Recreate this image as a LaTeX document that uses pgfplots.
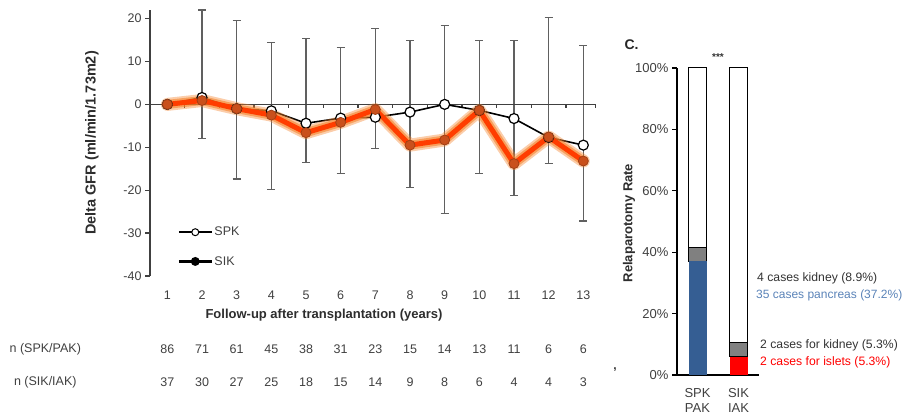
\documentclass[border=0pt]{standalone}
\usepackage{pgfplots}
\pgfplotsset{compat=1.18}
\usepackage{pgfplotstable}
\usepackage{fontspec}
\setmainfont{Liberation Sans}
\definecolor{txt}{HTML}{404040}
\definecolor{errc}{HTML}{606060}
\definecolor{orcore}{HTML}{FF3D00}
\definecolor{orglow}{HTML}{F5822A}
\definecolor{ormark}{HTML}{C9501C}
\definecolor{barblue}{HTML}{355E93}
\definecolor{txtblue}{HTML}{5A83B8}
\definecolor{barred}{HTML}{FF0000}
\definecolor{bargray}{HTML}{808080}

\pgfplotstableread{
x spk sik
1 0 0
2 1.6 0.9
3 -1.0 -1.0
4 -1.5 -2.5
5 -4.4 -6.6
6 -3.2 -4.2
7 -3.0 -1.2
8 -1.8 -9.5
9 0.0 -8.3
10 -1.4 -1.4
11 -3.3 -13.8
12 -7.7 -7.6
13 -9.5 -13.2
}\gfr

\pgfplotstableread{
x top bot
2 22.0 -7.9
3 19.5 -17.4
4 14.4 -19.8
5 15.3 -13.5
6 13.3 -16.1
7 17.7 -10.3
8 14.9 -19.4
9 18.4 -25.5
10 14.9 -16.1
11 14.9 -21.2
12 20.2 -13.8
13 13.7 -27.2
}\errs

\pgfplotstableread{
x y n
1 -57 86
2 -57 71
3 -57 61
4 -57 45
5 -57 38
6 -57 31
7 -57 23
8 -57 15
9 -57 14
10 -57 13
11 -57 11
12 -57 6
13 -57 6
}\nspk

\pgfplotstableread{
x y n
1 -64.7 37
2 -64.7 30
3 -64.7 27
4 -64.7 25
5 -64.7 18
6 -64.7 15
7 -64.7 14
8 -64.7 9
9 -64.7 8
10 -64.7 6
11 -64.7 4
12 -64.7 4
13 -64.7 3
}\nsik

\begin{document}
\begin{tikzpicture}
\useasboundingbox (0pt,0pt) rectangle (907pt,414pt);
\begin{axis}[
  at={(150pt,138pt)}, anchor=south west,
  scale only axis, width=450.67pt, height=266pt,
  xmin=0.5, xmax=13.5, ymin=-40, ymax=22,
  clip=false,
  axis y line*=left, axis x line*=bottom,
  x axis line style={draw=none},
  y axis line style={txt, line width=1.2pt},
  xtick={1,...,13}, major x tick style={draw=none},
  ytick={-40,-30,...,20}, ytick pos=left,
  y tick style={txt, line width=1.2pt},
  tick align=outside, major tick length=5pt,
  /pgf/number format/assume math mode=true,
  every tick label/.append style={font=\fontsize{12.5}{15}\selectfont, text=txt},
  xticklabel style={yshift=-6pt},
  ylabel={\bfseries Delta GFR (ml/min/1.73m2)},
  ylabel style={at={(axis description cs:-0.129,0.5)}, anchor=center, font=\fontsize{14.5}{16}\selectfont, text=txt!70!black},
  xlabel={\bfseries Follow-up after transplantation (years)},
  xlabel style={at={(axis description cs:0.386,-0.147)}, anchor=center, font=\fontsize{13}{15}\selectfont, text=txt!70!black},
  legend style={draw=none, fill=none, at={(axis cs:1.29,-33.2)}, anchor=west,
    font=\fontsize{12.5}{15}\selectfont, text=txt, row sep=16pt, inner sep=0pt,
    nodes={inner sep=1.5pt}},
  legend cell align=left,
  legend image code/.code={\draw[mark repeat=2,mark phase=2,#1] plot coordinates {(0pt,0pt) (16.5pt,0pt) (33pt,0pt)};},
]
% error bars
\addplot[draw=none, mark=none, forget plot,
  error bars/.cd, y dir=both, y explicit,
  error bar style={errc, line width=1.2pt},
  error mark options={rotate=90, mark size=4pt, errc, line width=1.2pt}]
  table[x=x, y=bot, y error plus expr=\thisrow{top}-\thisrow{bot}, y error minus expr=0] {\errs};
% zero line with ticks
\addplot[txt, line width=1.2pt, forget plot] coordinates {(0.5,0) (13.35,0)};
\addplot[txt, line width=1.2pt, ycomb, mark=none, forget plot] coordinates {
(0.5,-0.9) (1.5,-0.9) (2.5,-0.9) (3.5,-0.9) (4.5,-0.9) (5.5,-0.9) (6.5,-0.9)
(7.5,-0.9) (8.5,-0.9) (9.5,-0.9) (10.5,-0.9) (11.5,-0.9) (12.5,-0.9) (13.35,-0.9)};
% SPK
\addplot[black, line width=1.6pt, mark=*, mark size=5pt,
  mark options={fill=white, draw=black, line width=1.2pt}, forget plot]
  table[x=x, y=spk] {\gfr};
% SIK glow
\addplot[orglow, opacity=0.4, line width=13pt, line join=round, line cap=round, forget plot]
  table[x=x, y=sik] {\gfr};
\addplot[orglow, opacity=0.6, line width=9pt, line join=round, line cap=round, forget plot]
  table[x=x, y=sik] {\gfr};
\addplot[orcore, line width=5pt, line join=round, forget plot]
  table[x=x, y=sik] {\gfr};
\addplot[only marks, mark=*, mark size=5pt,
  mark options={fill=ormark, draw=ormark!80!black, line width=0.8pt}, forget plot]
  table[x=x, y=sik] {\gfr};
% n rows
\addplot[draw=none, mark=none, forget plot, nodes near coords, point meta=explicit symbolic,
  every node near coord/.append style={anchor=center, font=\fontsize{12.5}{15}\selectfont, text=txt}]
  table[x=x, y=y, meta=n] {\nspk};
\addplot[draw=none, mark=none, forget plot, nodes near coords, point meta=explicit symbolic,
  every node near coord/.append style={anchor=center, font=\fontsize{12.5}{15}\selectfont, text=txt}]
  table[x=x, y=y, meta=n] {\nsik};
\node[font=\fontsize{12.5}{15}\selectfont, text=txt] at (axis cs:-2.52,-57) {n (SPK/PAK)};
\node[font=\fontsize{12.5}{15}\selectfont, text=txt] at (axis cs:-2.52,-64.7) {n (SIK/IAK)};
% legend
\addlegendimage{black, line width=2.4pt, mark=*, mark size=3.5pt, mark options={fill=white, line width=1pt}}
\addlegendentry{SPK}
\addlegendimage{black, line width=2.4pt, mark=*, mark size=3.2pt, mark options={fill=black}}
\addlegendentry{SIK}
\end{axis}

\begin{axis}[
  at={(677pt,39pt)}, anchor=south west,
  scale only axis, width=82pt, height=307pt,
  xmin=-0.5, xmax=1.5, ymin=0, ymax=100,
  clip=false,
  ybar stacked, bar width=18pt,
  axis y line*=left, axis x line*=bottom,
  axis line style={black, line width=1.2pt},
  xtick={0,1}, xticklabels={SPK\\PAK, SIK\\IAK},
  major x tick style={draw=none},
  extra x ticks={-0.5,0.5,1.5}, extra x tick labels={},
  extra x tick style={major tick style={black, line width=1.2pt}},
  ytick={0,20,...,100}, yticklabel={\pgfmathprintnumber{\tick}\%},
  y tick style={black, line width=1.2pt},
  tick align=outside, major tick length=5pt,
  /pgf/number format/assume math mode=true,
  every tick label/.append style={font=\fontsize{13}{15}\selectfont, text=txt},
  xticklabel style={align=center, yshift=-5pt},
  ylabel={\bfseries Relaparotomy Rate},
  ylabel style={at={(axis description cs:-0.585,0.495)}, anchor=center, font=\fontsize{13}{15}\selectfont, text=txt!70!black},
]
\addplot[fill=barblue, draw=none] coordinates {(0,37.0) (1,0)};
\addplot[fill=barred, draw=none] coordinates {(0,0) (1,5.9)};
\addplot[fill=bargray, draw=black, line width=1pt] coordinates {(0,4.6) (1,4.8)};
\addplot[fill=white, draw=black, line width=1pt] coordinates {(0,58.4) (1,89.3)};
\end{axis}

\node[font=\bfseries\fontsize{14}{16}\selectfont, text=black!85, anchor=west] at (621pt,369pt) {C.};
\node[font=\bfseries\fontsize{10}{12}\selectfont, text=black!80] at (718pt,357pt) {***};
\node[font=\bfseries\fontsize{12}{14}\selectfont, text=black!80] at (615pt,44pt) {,};
\node[font=\fontsize{12.2}{15}\selectfont, text=txt!80!black, anchor=west, inner sep=0pt] at (757pt,136pt) {4 cases kidney (8.9\%)};
\node[font=\fontsize{12}{15}\selectfont, text=txtblue, anchor=west, inner sep=0pt] at (756pt,119pt) {35 cases pancreas (37.2\%)};
\node[font=\fontsize{12.2}{15}\selectfont, text=txt!80!black, anchor=west, inner sep=0pt] at (760pt,69pt) {2 cases for kidney (5.3\%)};
\node[font=\fontsize{12.2}{15}\selectfont, text=barred, anchor=west, inner sep=0pt] at (760pt,52pt) {2 cases for islets (5.3\%)};
\end{tikzpicture}
\end{document}
